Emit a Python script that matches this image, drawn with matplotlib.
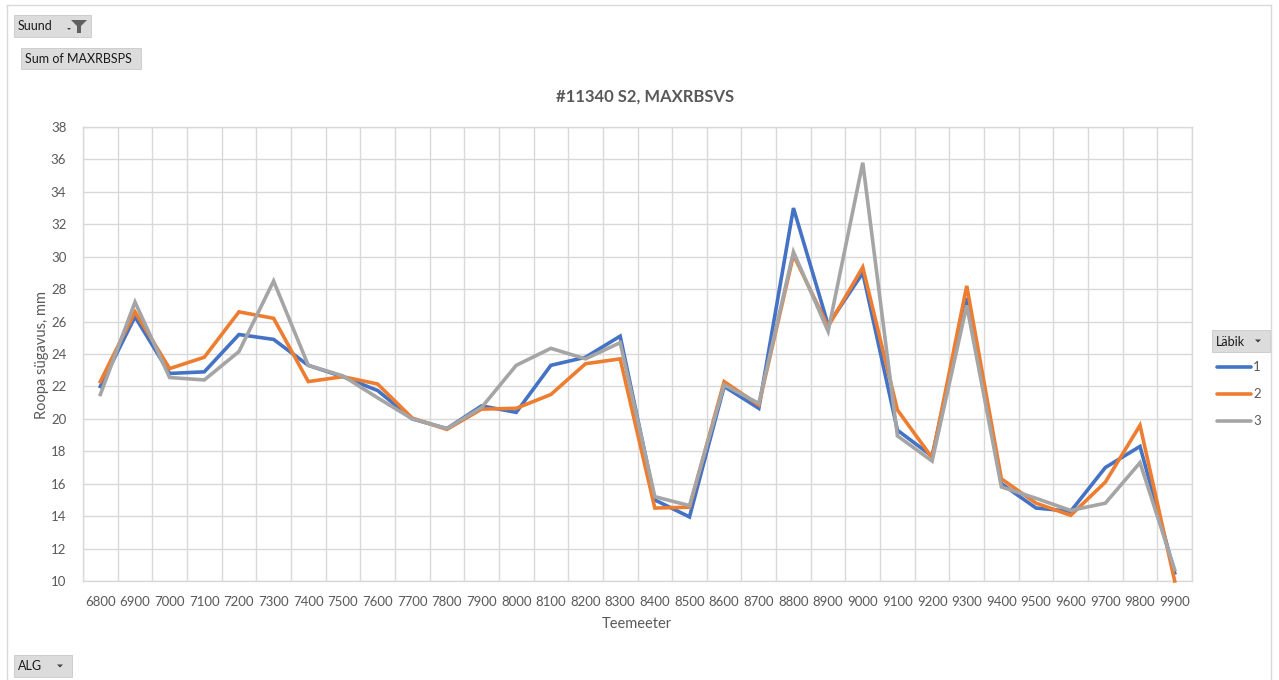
import matplotlib
matplotlib.use("Agg")
import matplotlib.pyplot as plt
from matplotlib.patches import Rectangle, Polygon
from matplotlib.lines import Line2D
import numpy as np

plt.rcParams['font.family'] = ['Lato', 'DejaVu Sans']

# ---- data ----
teemeeter = list(range(6800, 10000, 100))
labik_1 = [22.0, 26.3, 22.8, 22.9, 25.2, 24.9, 23.3, 22.6, 21.75, 20.0,
           19.4, 20.8, 20.4, 23.3, 23.8, 25.1, 15.0, 13.95, 22.0, 20.65,
           33.0, 25.8, 29.0, 19.3, 17.7, 27.45, 16.0, 14.5, 14.3, 17.0,
           18.3, 10.5]
labik_2 = [22.3, 26.6, 23.1, 23.8, 26.6, 26.2, 22.3, 22.6, 22.15, 20.05,
           19.35, 20.6, 20.65, 21.5, 23.4, 23.7, 14.5, 14.55, 22.3, 20.85,
           30.1, 25.7, 29.35, 20.55, 17.6, 28.2, 16.3, 14.8, 14.05, 16.1,
           19.6, 10.0]
labik_3 = [21.5, 27.2, 22.55, 22.4, 24.15, 28.5, 23.3, 22.65, 21.3, 20.0,
           19.4, 20.7, 23.3, 24.35, 23.7, 24.7, 15.2, 14.65, 22.1, 20.95,
           30.3, 25.4, 35.8, 18.95, 17.4, 27.0, 15.8, 15.1, 14.35, 14.8,
           17.3, 10.7]
series_names = ["1", "2", "3"]
colors = ["#4472C4", "#ED7D31", "#A5A5A5"]
title = "#11340 S2, MAXRBSVS"
xlabel = "Teemeeter"
ylabel = "Roopa sügavus, mm"
yticks = list(range(10, 40, 2))

W, H = 1279, 680
fig = plt.figure(figsize=(W / 100, H / 100), dpi=100)

def fx(px):
    return px / W

def fy(py):
    return 1 - py / H

TXT = "#595959"
GRID = "#d9d9d9"

# outer chart frame (top, left, right edges; bottom runs off the picture)
for (xa, ya, xb, yb) in [(7, 5, 1271, 5), (7, 5, 7, 680), (1271, 5, 1271, 680)]:
    fig.add_artist(Line2D([fx(xa), fx(xb)], [fy(ya), fy(yb)],
                          transform=fig.transFigure, color="#d9d9d9",
                          linewidth=1.0))

left, right, top, bottom = 83, 1192, 127, 581
ax = fig.add_axes([fx(left), fy(bottom), fx(right - left), (bottom - top) / H])

x = np.arange(len(teemeeter))
for vals, c in zip([labik_1, labik_2, labik_3], colors):
    ax.plot(x, vals, color=c, linewidth=2.6, solid_joinstyle="miter", zorder=3,
            clip_on=False)

ax.set_xlim(-0.5, len(teemeeter) - 0.5)
ax.set_ylim(10, 38)
ax.set_yticks(yticks)
ax.set_xticks(x)
ax.set_xticklabels([str(t) for t in teemeeter])
ax.set_xticks(np.arange(-0.5, len(teemeeter), 1.0), minor=True)
ax.grid(False)
ax.grid(True, which="minor", axis="x", color=GRID, linewidth=1.0, zorder=0)
ax.grid(True, which="major", axis="y", color=GRID, linewidth=1.0, zorder=0)
for s in ax.spines.values():
    s.set_color(GRID)
    s.set_linewidth(1.0)
ax.tick_params(axis="both", which="both", length=0, colors=TXT, labelsize=9.5)
ax.tick_params(axis="x", pad=11)
ax.tick_params(axis="y", pad=12)

fig.text(fx(645), fy(97), title, ha="center", va="center", fontsize=12,
         fontweight="bold", color=TXT)
fig.text(fx(637), fy(624), xlabel, ha="center", va="center", fontsize=10.5,
         color=TXT)
fig.text(fx(42), fy(355), ylabel, ha="center", va="center", fontsize=10.5,
         color=TXT, rotation=90)

# pivot field buttons
def button(x0, y0, x1, y1, label, arrow=True, funnel=False):
    fig.add_artist(Rectangle((fx(x0), fy(y1)), fx(x1 - x0), (y1 - y0) / H,
                             transform=fig.transFigure, facecolor="#dcdcdc",
                             edgecolor="#c8c8c8", linewidth=0.6))
    fig.text(fx(x0 + 4), fy((y0 + y1) / 2 + 0.5), label, ha="left", va="center",
             fontsize=9, color="#1a1a1a")
    if arrow and not funnel:
        ax_px = x1 - 12
        cy = (y0 + y1) / 2
        fig.add_artist(Polygon([[fx(ax_px - 3), fy(cy - 1.5)], [fx(ax_px + 3), fy(cy - 1.5)],
                                [fx(ax_px), fy(cy + 1.5)]], closed=True,
                               transform=fig.transFigure, facecolor="#404040",
                               edgecolor="none"))
    if funnel:
        cy = (y0 + y1) / 2
        ax_px = x1 - 22
        fig.add_artist(Polygon([[fx(ax_px - 2), fy(cy + 2)], [fx(ax_px + 2), fy(cy + 2)],
                                [fx(ax_px), fy(cy + 4)]], closed=True,
                               transform=fig.transFigure, facecolor="#404040",
                               edgecolor="none"))
        fxc = x1 - 12
        fig.add_artist(Polygon([[fx(fxc - 8), fy(cy - 6)], [fx(fxc + 8), fy(cy - 6)],
                                [fx(fxc + 2), fy(cy)], [fx(fxc + 2), fy(cy + 7)],
                                [fx(fxc - 2), fy(cy + 7)], [fx(fxc - 2), fy(cy)]],
                               closed=True, transform=fig.transFigure,
                               facecolor="#606060", edgecolor="none"))

button(14, 15, 91, 37, "Suund", funnel=True)
button(21, 48, 141, 69, "Sum of MAXRBSPS", arrow=False)
button(14, 655, 72, 677, "ALG")
button(1212, 330, 1270, 352, "Läbik")

# legend
for i, (name, c) in enumerate(zip(series_names, colors)):
    yy = 367 + i * 27
    fig.add_artist(Line2D([fx(1217), fx(1251)], [fy(yy), fy(yy)],
                          transform=fig.transFigure, color=c,
                          linewidth=2.6, solid_capstyle="round"))
    fig.text(fx(1253), fy(yy), name, ha="left", va="center", fontsize=9.5,
             color=TXT)

fig.savefig("out.png", dpi=100)
